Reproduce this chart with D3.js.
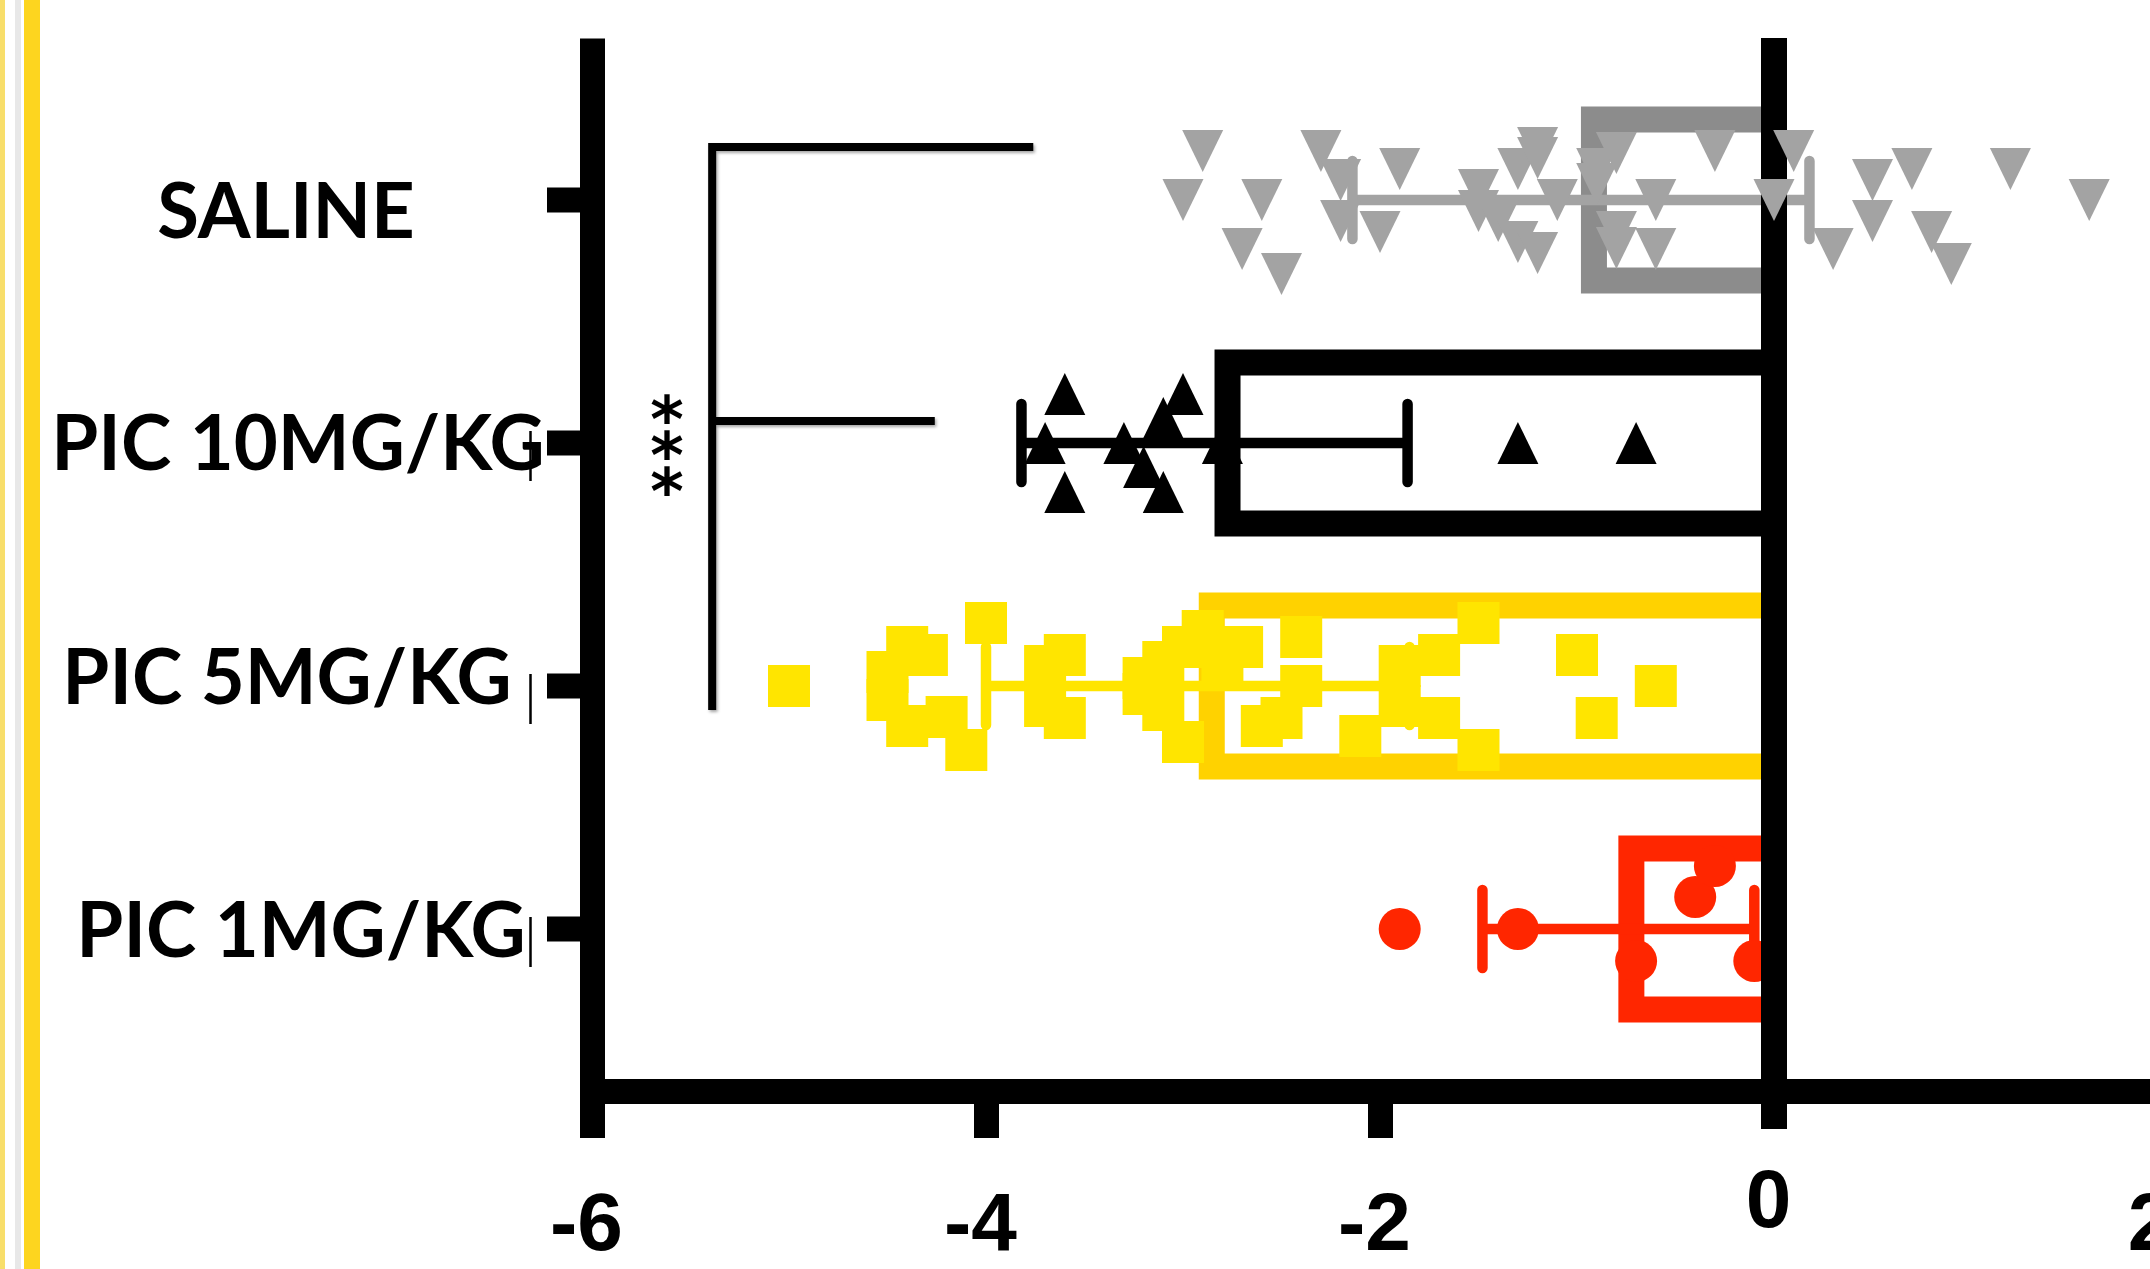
<!DOCTYPE html>
<html><head><meta charset="utf-8">
<script src="https://cdn.jsdelivr.net/npm/d3@7"></script>
<style>html,body{margin:0;padding:0;background:#fff;overflow:hidden}</style>
</head><body><svg id="chart" width="2150" height="1269"></svg>
<script>
// ---------------- DATA ----------------
const categories = ["SALINE", "PIC 10MG/KG", "PIC 5MG/KG", "PIC 1MG/KG"];
const xTicks = [-6, -4, -2, 0, 2];
const barMeans = [-0.98, -2.84, -2.92, -0.79];
const errLow  = [-2.14, -3.82, -4.00, -1.48];
const errHigh = [ 0.18, -1.86, -1.85, -0.10];

const salineValues = [-2.9,-3.0,-2.6,-2.7,-2.5,-2.3,-2.2,-2.2,-1.9,-2.0,-1.5,-1.5,-1.4,-1.3,-1.2,-1.2,-1.1,-1.3,-1.2,
  -0.9,-0.8,-0.9,-0.8,-0.8,-0.6,-0.6,-0.3,0.0,0.1,0.3,0.5,0.5,0.7,0.8,0.9,1.2,1.6];
const salineJitter = [-4.9,0,0,4.9,7.4,-4.9,-2.0,2.1,-3.1,3.2,-1.0,1.1,2.1,-3.1,-5.2,-4.2,0,4.2,5.3,
  -3.1,-4.7,-1.6,3.2,4.8,0,4.9,-4.9,0,-4.9,4.9,-2.0,2.1,-3.1,3.2,6.4,-3.1,0];

const pic10Values = [-3.6,-3.7,-3.6,-3.3,-3.1,-3.0,-3.2,-3.1,-2.8,-1.3,-0.7];
const pic10Jitter = [-4.9,0,4.9,0,-2.5,-4.9,2.4,4.9,0,0,0];

const pic5Values = [-5.0,-4.5,-4.5,-4.4,-4.4,-4.3,-4.2,-4.1,-4.0,-3.7,-3.7,-3.6,-3.6,-3.2,-3.2,-3.1,-3.1,-3.0,-3.0,
  -2.9,-2.8,-2.7,-2.6,-2.5,-2.4,-2.4,-2.1,-1.9,-1.9,-1.7,-1.7,-1.5,-1.5,-1.0,-0.9,-0.6];
const pic5Jitter = [0,-1.4,1.4,-3.9,4.0,-3.1,3.1,6.4,-6.3,-2.0,2.0,-3.1,3.2,-0.8,0.8,-2.4,2.4,-3.9,5.6,
  -5.5,-2.0,-3.9,4.0,3.2,-4.9,0,5.0,-2.0,2.0,-3.1,3.2,-6.3,6.4,-3.1,3.2,0];

const pic1Values = [-1.9,-1.3,-0.7,-0.4,-0.3,-0.1];
const pic1Jitter = [0,0,3.2,-3.2,-6.3,3.2];

const sigLabel = "***";

// ---------------- LAYOUT / STYLE ----------------
const svg = d3.select("#chart");
const x = d3.scaleLinear().domain([-6, 2]).range([592, 2168]);
const y = d3.scaleBand().domain(categories).range([38, 1091]).paddingInner(0).paddingOuter(1/6);
const cy = c => y(c) + y.bandwidth() / 2;
const JIT = 10;           // px per jitter unit
const MS = 42;            // marker size
const BAR_H = 187, BAR_SW = 26;
const ERR_SW = 10.5, CAP_H = 39;
const barStroke = ["#8C8C8C", "#000000", "#FFD200", "#FF2600"];
const errColor  = ["#A3A3A3", "#000000", "#FFE500", "#FF2600"];
const labelNudgeX = [-7, 5, -6, 8];
const labelNudgeY = [11, 0, -9, 1];
const labelTail = [false, true, true, true];

// decorative stripes at the left edge
svg.append("rect").attr("x", 0).attr("y", 0).attr("width", 5).attr("height", 1269).attr("fill", "#F8DE6A");
svg.append("rect").attr("x", 15).attr("y", 0).attr("width", 6).attr("height", 1269).attr("fill", "#E8E8E8");
svg.append("rect").attr("x", 24).attr("y", 0).attr("width", 16).attr("height", 1269).attr("fill", "#FDD51F");

// ---------------- AXES ----------------
const xAxis = d3.axisBottom(x).tickValues(xTicks).tickSize(47).tickSizeOuter(0).tickFormat(d => String(d));
const gx = svg.append("g").attr("transform", "translate(0,1091)").call(xAxis);
gx.select(".domain").attr("stroke", "#000").attr("stroke-width", 25);
gx.selectAll(".tick line").attr("stroke", "#000").attr("stroke-width", 25)
  .attr("y2", d => d === 0 ? 38 : 47);
gx.selectAll(".tick text")
  .attr("font-family", "'Liberation Sans', Arial, sans-serif").attr("font-weight", "bold")
  .attr("font-size", 82).attr("fill", "#000")
  .attr("dy", 0).attr("dx", d => d === 2 ? -18 : -6)
  .attr("y", d => d === 0 ? 136 : 159);

const yAxis = d3.axisLeft(y).tickSize(45).tickSizeOuter(0);
const gy = svg.append("g").attr("transform", "translate(592,0)").call(yAxis);
gy.select(".domain").attr("stroke", "#000").attr("stroke-width", 25);
gy.selectAll(".tick line").attr("stroke", "#000").attr("stroke-width", 25);
gy.selectAll(".tick text")
  .attr("font-family", "Lato, 'Open Sans', sans-serif").attr("font-weight", "bold")
  .attr("font-size", 76).attr("fill", "#000")
  .attr("text-anchor", "middle").attr("dy", 0)
  .attr("x", (d, i) => 293 - 592 + labelNudgeX[i])
  .attr("y", (d, i) => 27 + labelNudgeY[i]);
gy.selectAll(".tick").filter((d, i) => labelTail[i]).append("line")
  .attr("x1", 530.5 - 592).attr("x2", 530.5 - 592).attr("y1", -12).attr("y2", 38)
  .attr("stroke", "#000").attr("stroke-width", 2.5);

// ---------------- BARS ----------------
svg.append("g").selectAll("rect").data(categories).join("rect")
  .attr("x", (d, i) => x(barMeans[i]) + BAR_SW / 2)
  .attr("y", d => cy(d) - BAR_H / 2 + BAR_SW / 2)
  .attr("width", (d, i) => x(0) - x(barMeans[i]) - BAR_SW / 2)
  .attr("height", BAR_H - BAR_SW)
  .attr("fill", "none")
  .attr("stroke", (d, i) => barStroke[i]).attr("stroke-width", BAR_SW);

// ---------------- ERROR BARS ----------------
const ge = svg.append("g");
categories.forEach((c, i) => {
  const g = ge.append("g").attr("stroke", errColor[i]).attr("stroke-width", ERR_SW);
  g.append("line").attr("x1", x(errLow[i])).attr("x2", x(errHigh[i])).attr("y1", cy(c)).attr("y2", cy(c));
  g.selectAll("line.cap").data([errLow[i], errHigh[i]]).join("line").attr("class", "cap")
    .attr("x1", d => x(d)).attr("x2", d => x(d))
    .attr("y1", cy(c) - CAP_H).attr("y2", cy(c) + CAP_H)
    .attr("stroke-linecap", "round");
});

// ---------------- POINTS ----------------
const triW = 41, triH = 42;
const triDown = `M${-triW/2},${-triH/2}L${triW/2},${-triH/2}L0,${triH/2}Z`;
const triUp = `M0,${-triH/2}L${triW/2},${triH/2}L${-triW/2},${triH/2}Z`;
const zip = (v, j) => v.map((d, i) => ({ v: d, j: j[i] }));

// PIC 1 (red circles)
svg.append("g").selectAll("circle").data(zip(pic1Values, pic1Jitter)).join("circle")
  .attr("cx", d => x(d.v)).attr("cy", d => cy(categories[3]) + d.j * JIT)
  .attr("r", MS / 2).attr("fill", "#FF2600");

// PIC 5 (yellow squares)
svg.append("g").selectAll("rect").data(zip(pic5Values, pic5Jitter)).join("rect")
  .attr("x", d => x(d.v) - MS / 2).attr("y", d => cy(categories[2]) + d.j * JIT - MS / 2)
  .attr("width", MS).attr("height", MS).attr("fill", "#FFE500");

// PIC 10 (black up triangles)
svg.append("g").selectAll("path").data(zip(pic10Values, pic10Jitter)).join("path")
  .attr("d", triUp)
  .attr("transform", d => `translate(${x(d.v)},${cy(categories[1]) + d.j * JIT})`)
  .attr("fill", "#000");

// zero line
svg.append("line").attr("x1", x(0)).attr("x2", x(0)).attr("y1", 38).attr("y2", 1129)
  .attr("stroke", "#000").attr("stroke-width", 26);

// SALINE (grey down triangles)
svg.append("g").selectAll("path").data(zip(salineValues, salineJitter)).join("path")
  .attr("d", triDown)
  .attr("transform", d => `translate(${x(d.v)},${cy(categories[0]) + d.j * JIT})`)
  .attr("fill", "#A3A3A3");

// ---------------- SIGNIFICANCE BRACKET ----------------
const defs = svg.append("defs");
const f = defs.append("filter").attr("id", "sh").attr("x", "-10%").attr("y", "-10%").attr("width", "120%").attr("height", "120%");
f.append("feDropShadow").attr("dx", 1.5).attr("dy", 2).attr("stdDeviation", 1.5).attr("flood-color", "#000").attr("flood-opacity", 0.35);
const bx = x(-5.39);
const gb = svg.append("g").attr("stroke", "#000").attr("stroke-width", 8).attr("fill", "none").attr("filter", "url(#sh)");
gb.append("path").attr("d", `M${x(-3.76)},${cy(categories[0]) - 53}H${bx}V${cy(categories[2]) + 24}`);
gb.append("path").attr("d", `M${bx},${cy(categories[1]) - 22}H${x(-4.26)}`);

// "***" stacked vertically, as one text element (vertical writing)
const astFs = 64;
svg.append("text")
  .attr("x", x(-5.62)).attr("y", cy(categories[1]) - 60)
  .attr("font-family", "'DejaVu Sans', sans-serif").attr("font-weight", "bold")
  .attr("font-size", astFs).attr("fill", "#000")
  .style("writing-mode", "vertical-rl").style("text-orientation", "upright")
  .style("letter-spacing", "-38px")
  .text(sigLabel);
</script></body></html>
